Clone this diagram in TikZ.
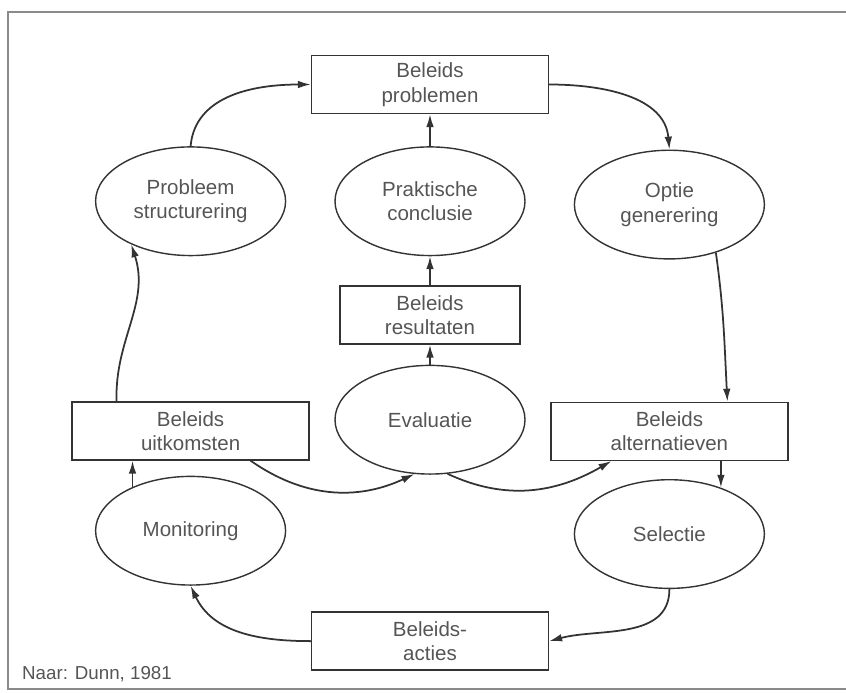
\documentclass[tikz,border=0pt]{standalone}
\usepackage{fontspec}
\setmainfont{Liberation Sans}
\usepackage{tikz}
\usetikzlibrary{shapes,arrows.meta,positioning}

\definecolor{linegray}{HTML}{333333}
\definecolor{textgray}{HTML}{555555}
\definecolor{framegray}{HTML}{8A8A8A}

\begin{document}
\begin{tikzpicture}[node distance=1cm,
    >={Latex[length=11pt,width=6.5pt]},
    box/.style={rectangle, draw=linegray, line width=1.2pt, text=textgray, align=center,
        minimum width=7.11cm, minimum height=1.74cm, font=\fontsize{17.5}{21}\selectfont},
    oval/.style={ellipse, draw=linegray, line width=1.2pt, text=textgray, align=center,
        inner sep=0pt, minimum width=5.7cm, minimum height=3.26cm, font=\fontsize{17.5}{21}\selectfont},
    flow/.style={->, draw=linegray, line width=1.5pt}]

    \useasboundingbox (0,0) rectangle (25.38,-20.76);
    \draw [framegray, line width=1pt] (25.38,-0.36) -- (0.24,-0.36) -- (0.24,-20.67) -- (25.38,-20.67);

        % Nodes
    \node (problemen) [box] at (12.9,-2.535) {Beleids\\problemen};
    \node (praktische) [oval, below=0.96cm of problemen] {Praktische\\conclusie};
    \node (resultaten) [box, minimum width=5.4cm, below=0.87cm of praktische] {Beleids\\resultaten};
    \node (evaluatie) [oval, below=0.6cm of resultaten] {Evaluatie};
    \node (acties) [box, below=4.1cm of evaluatie] {Beleids-\\acties};
    \node (structurering) [oval, left=1.44cm of praktische] {Probleem\\structurering};
    \node (optie) [oval, right=1.44cm of praktische, yshift=-0.1cm] {Optie\\generering};
    \node (uitkomsten) [box, below=4.35cm of structurering] {Beleids\\uitkomsten};
    \node (alternatieven) [box, below=4.26cm of optie] {Beleids\\alternatieven};
    \node (monitoring) [oval, below=0.45cm of uitkomsten] {Monitoring};
    \node (selectie) [oval, below=0.54cm of alternatieven] {Selectie};
    \node (bron) [anchor=west, text=textgray, font=\fontsize{16}{19}\selectfont] at (0.54,-20.22) {Naar: Dunn, 1981};

        % Arrows
    \draw [flow] (structurering.north) to[out=85, in=180] (problemen.west);
    \draw [flow] (problemen.east) to[out=0, in=95] (optie.north);
    \draw [flow] (praktische.north) -- (problemen.south);
    \draw [flow] (resultaten.north) -- (praktische.south);
    \draw [flow] (evaluatie.north) -- (resultaten.south);
    \draw [flow] (optie.-46) to[out=-82, in=93] ([xshift=1.74cm]alternatieven.north);
    \draw [flow] (selectie.42 |- alternatieven.south) -- (selectie.42);
    \draw [flow] (selectie.south) to[out=-90, in=15] (acties.east);
    \draw [flow] (acties.west) to[out=180, in=-65] (monitoring.south);
    \draw [flow] (monitoring.143) -- (monitoring.143 |- uitkomsten.south);
    \draw [flow] ([xshift=-2.22cm]uitkomsten.north) to[out=92, in=-72] (structurering.216);
    \draw [flow] ([xshift=1.8cm]uitkomsten.south) to[out=-35, in=205] (evaluatie.-106);
    \draw [flow] (evaluatie.-72) to[out=-25, in=210] ([xshift=-1.74cm]alternatieven.south);

\end{tikzpicture}
\end{document}
